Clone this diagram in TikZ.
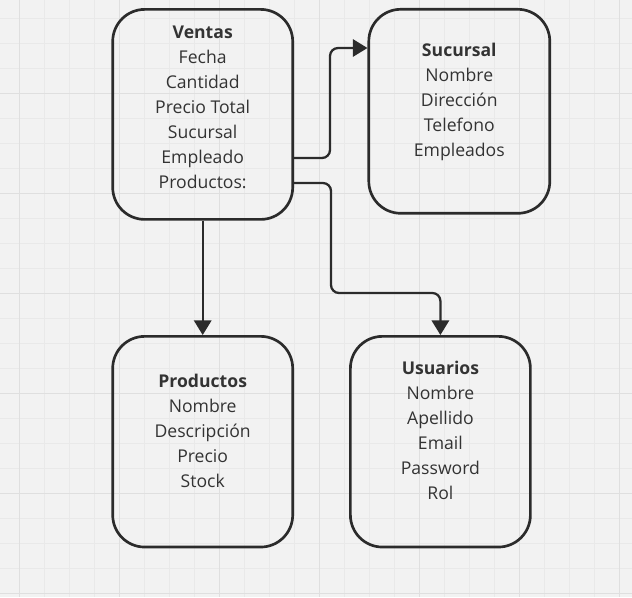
\documentclass[tikz,border=0pt]{standalone}
\usepackage{fontspec}
\setmainfont{Open Sans}
\usetikzlibrary{arrows.meta}
\definecolor{boardbg}{HTML}{F2F2F2}
\definecolor{gridminor}{HTML}{E9E9E9}
\definecolor{gridmajor}{HTML}{DFDFDF}
\definecolor{ink}{HTML}{2B2B2B}
\definecolor{textink}{HTML}{333333}
\tikzset{
  entity/.style={draw=ink, line width=2pt, rounded corners=24pt, align=center,
    text=textink, font=\fontsize{13.2}{18.75}\selectfont, inner sep=0pt,
    minimum width=135pt, minimum height=158pt},
  link/.style={draw=ink, line width=1.7pt, rounded corners=6pt,
    -{Triangle[length=11pt,width=13pt]}}
}
\begin{document}
\begin{tikzpicture}[x=0.75pt,y=-0.75pt]
    \useasboundingbox (0,0) rectangle (632,597);
    % Draw the board and its grid
    \fill[boardbg] (0,0) rectangle (632,597);
    \foreach \gx in {19.3,44.3,...,632} \draw[gridminor, line width=0.75pt] (\gx,0) -- (\gx,597);
    \foreach \gy in {18.3,43.3,...,597} \draw[gridminor, line width=0.75pt] (0,\gy) -- (632,\gy);
    \foreach \gx in {19.3,119.3,...,632} \draw[gridmajor, line width=1.1pt] (\gx,0) -- (\gx,597);
    \foreach \gy in {93.3,193.3,...,597} \draw[gridmajor, line width=1.1pt] (0,\gy) -- (632,\gy);
    % Draw the tables
    \node[entity, minimum height=157.5pt] (ventas) at (202.7,114.4)
      {\textbf{Ventas}\\Fecha\\Cantidad\\Precio Total\\Sucursal\\Empleado\\Productos:\rule[-10.6pt]{0pt}{0pt}};
    \node[entity, minimum width=135.75pt, minimum height=153pt] (sucursal) at (459.3,111.3)
      {\textbf{Sucursal}\\Nombre\\Dirección\\Telefono\\Empleados\rule[-16.6pt]{0pt}{0pt}};
    \node[entity] (productos) at (202.7,441.7)
      {\textbf{Productos}\\Nombre\\Descripción\\Precio\\Stock\rule[-16.6pt]{0pt}{0pt}};
    \node[entity] (usuarios) at (440.4,441.7)
      {\textbf{Usuarios}\\Nombre\\Apellido\\Email\\Password\\Rol\rule[-16.6pt]{0pt}{0pt}};
    % Draw the links
    \draw[link] (ventas.east |- 0,158) -- (330,158) -- (330,48) -- (sucursal.west |- 0,48);
    \draw[link] (ventas.east |- 0,183) -- (331,183) -- (331,293) -- (usuarios.north |- 0,293) -- (usuarios.north);
    \draw[link] (ventas.south) -- (productos.north);
\end{tikzpicture}
\end{document}
